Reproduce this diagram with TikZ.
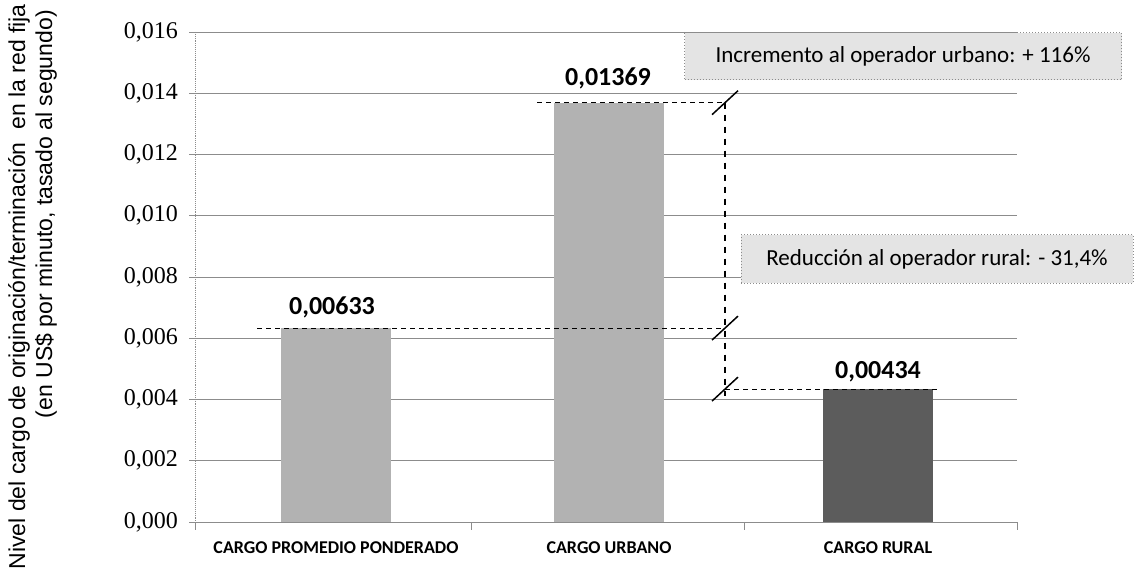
\documentclass[tikz,border=0pt]{standalone}
\usepackage{fontspec}
\setmainfont{Liberation Serif}
\newfontfamily\calfont{Carlito}
\newfontfamily\arialfont{Liberation Sans}
\usetikzlibrary{calc}
\definecolor{barlight}{HTML}{B2B2B2}
\definecolor{bardark}{HTML}{5C5C5C}
\definecolor{gridc}{HTML}{8C8C8C}
\definecolor{boxfill}{HTML}{E4E4E4}
\tikzset{
  gridline/.style={draw=gridc, line width=0.9pt},
  ticklab/.style={anchor=east, font=\fontsize{24}{24}\selectfont, inner sep=0pt},
  catlab/.style={font=\calfont\bfseries\fontsize{18}{18}\selectfont, inner sep=0pt},
  vallab/.style={font=\calfont\bfseries\fontsize{26}{26}\selectfont, inner sep=0pt},
  barbox/.style={anchor=south, minimum width=110pt, inner sep=0pt, outer sep=0pt},
  annot/.style={fill=boxfill, draw=gridc, dotted, line width=1pt, font=\calfont\fontsize{23}{23}\selectfont, inner sep=0pt, text=black},
  guide/.style={draw=black, dashed, line width=1.1pt, dash pattern=on 5pt off 4pt},
  vguide/.style={draw=black, dashed, line width=1.1pt, dash pattern=on 6pt off 6pt},
  slashmark/.style={draw=black, line width=1.5pt},
  axtitle/.style={rotate=90, anchor=east, font=\arialfont\fontsize{23}{23}\selectfont, inner sep=0pt}
}
\begin{document}
\begin{tikzpicture}[x=1pt, y=-1pt]
\useasboundingbox (0,0) rectangle (1135,580);
% gridlines
\foreach \yy in {32,93.25,154.5,215.75,277,338.25,399.5,460.75}
  \draw[gridline] (195,\yy) -- (1017,\yy);
% axes
\coordinate (ax0) at (195,522);
\coordinate (axT) at (195,32);
\coordinate (axR) at (1017,522);
\draw[gridc, line width=0.9pt, densely dotted] (axT) -- (ax0);
\draw[gridc, line width=1pt] (ax0) -- (axR);
\foreach \yy in {32,93.25,154.5,215.75,277,338.25,399.5,460.75,522}
  \draw[gridc, line width=0.9pt] (189,\yy) -- (195,\yy);
\foreach \xx in {195,471,744,1017}
  \draw[gridc, line width=0.9pt] (\xx,522) -- (\xx,530);
% tick labels
\node[ticklab] (t0) at (178,522) {0,000};
\node[ticklab] (t1) at (178,460.75) {0,002};
\node[ticklab] (t2) at (178,399.5) {0,004};
\node[ticklab] (t3) at (178,338.25) {0,006};
\node[ticklab] (t4) at (178,277) {0,008};
\node[ticklab] (t5) at (178,215.75) {0,010};
\node[ticklab] (t6) at (178,154.5) {0,012};
\node[ticklab] (t7) at (178,93.25) {0,014};
\node[ticklab] (t8) at (178,32) {0,016};
% axis title
\node[axtitle] (ttl1) at (19,4) {Nivel del cargo de originación/terminación\ \ en la red fija};
\node[axtitle] (ttl2) at (46,10) {(en US\$ por minuto, tasado al segundo)};
% bars
\node[barbox, fill=barlight, minimum height=193.9pt] (b1) at (336,522) {};
\node[barbox, fill=barlight, minimum height=419.3pt] (b2) at (609,522) {};
\node[barbox, fill=bardark, minimum height=132.9pt] (b3) at (878,522) {};
% category labels
\node[catlab] (c1) at (336,548) {CARGO PROMEDIO PONDERADO};
\node[catlab] (c2) at (609,548) {CARGO URBANO};
\node[catlab] (c3) at (878,548) {CARGO RURAL};
% value labels
\node[vallab] (v1) at (332,307) {0,00633};
\node[vallab] (v2) at (608,78) {0,01369};
\node[vallab] (v3) at (878,372) {0,00434};
% guide lines
\coordinate (g1s) at (257,328.1);
\coordinate (g1e) at (725,328.1);
\coordinate (g2s) at (537,102.7);
\coordinate (g2e) at (725,102.7);
\coordinate (g3s) at (725,389.1);
\coordinate (g3e) at (938,389.1);
\coordinate (gvb) at (725,396);
\draw[guide] (g1s) -- (g1e);
\draw[guide] (g2s) -- (g2e);
\draw[guide] (g3s) -- (g3e);
\draw[vguide] (g2e) -- (gvb);
\foreach \c in {g1e,g2e,g3s}
  \draw[slashmark] ($(\c)+(-13,12)$) -- ($(\c)+(13,-12)$);
% annotation boxes
\node[annot, minimum width=437pt, minimum height=47pt] (inc) at (903,56.5) {Incremento al operador urbano: + 116\%};
\node[annot, minimum width=392pt, minimum height=48pt] (red) at (937,259) {Reducción al operador rural: - 31,4\%};
\end{tikzpicture}
\end{document}
